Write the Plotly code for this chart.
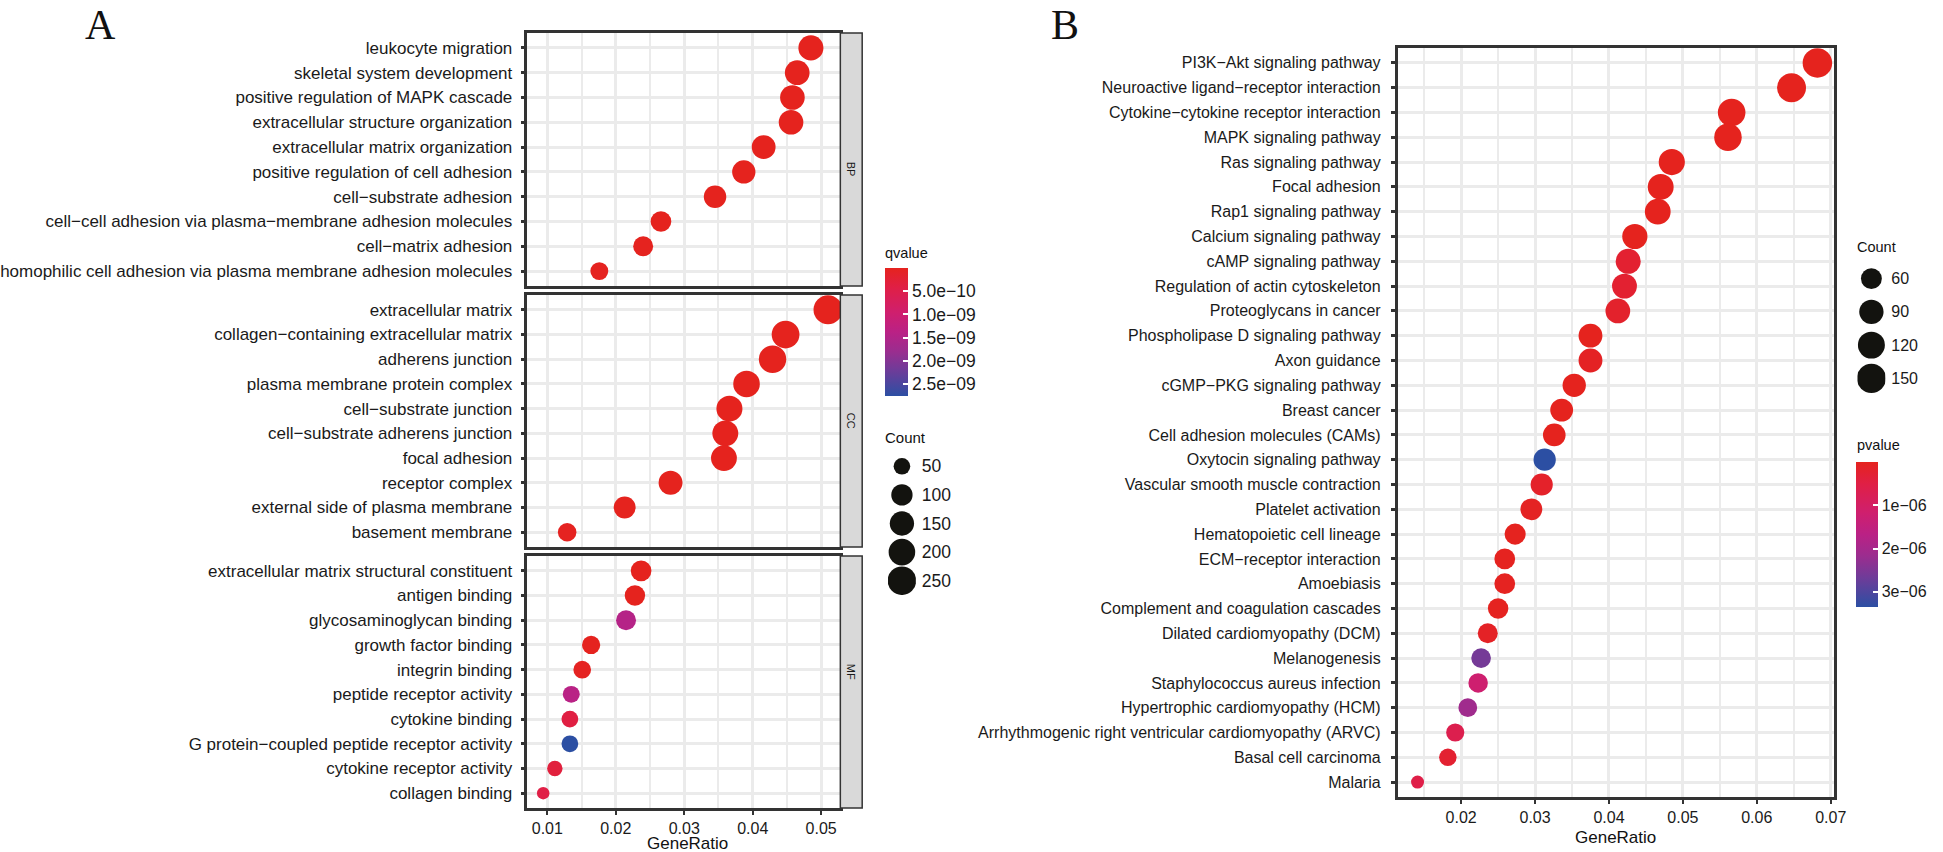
import numpy as np
import plotly.graph_objects as go

W, H = 1943, 852
FONT = "Liberation Sans, Arial, Helvetica, sans-serif"
SERIF = "Liberation Serif, Times New Roman, serif"
TXT = "#1A1A1A"
GRID = "#EBEBEB"
BORDER = "#333333"

# ---------------- Panel A : GO enrichment ----------------
bp_terms = ["leukocyte migration", "skeletal system development",
            "positive regulation of MAPK cascade", "extracellular structure organization",
            "extracellular matrix organization", "positive regulation of cell adhesion",
            "cell\u2212substrate adhesion",
            "cell\u2212cell adhesion via plasma\u2212membrane adhesion molecules",
            "cell\u2212matrix adhesion",
            "homophilic cell adhesion via plasma membrane adhesion molecules"]
bp_ratio = [0.0485, 0.0465, 0.0458, 0.0456, 0.0416, 0.0387, 0.0345, 0.0266, 0.0240, 0.0176]
bp_count = [166, 159, 157, 156, 142, 132, 118, 91, 82, 60]
bp_q = [1e-20, 2e-18, 5e-17, 1e-16, 3e-15, 2e-14, 5e-13, 2e-12, 8e-12, 2e-11]

cc_terms = ["extracellular matrix", "collagen\u2212containing extracellular matrix",
            "adherens junction", "plasma membrane protein complex",
            "cell\u2212substrate junction", "cell\u2212substrate adherens junction",
            "focal adhesion", "receptor complex", "external side of plasma membrane",
            "basement membrane"]
cc_ratio = [0.0510, 0.0448, 0.0429, 0.0391, 0.0366, 0.0360, 0.0358, 0.0280, 0.0213, 0.0129]
cc_count = [260, 228, 219, 199, 187, 184, 183, 143, 109, 66]
cc_q = [1e-30, 1e-25, 1e-18, 2e-16, 1e-15, 1e-15, 2e-15, 3e-13, 5e-12, 3e-11]

mf_terms = ["extracellular matrix structural constituent", "antigen binding",
            "glycosaminoglycan binding", "growth factor binding", "integrin binding",
            "peptide receptor activity", "cytokine binding",
            "G protein\u2212coupled peptide receptor activity", "cytokine receptor activity",
            "collagen binding"]
mf_ratio = [0.0237, 0.0228, 0.0215, 0.0164, 0.0151, 0.0135, 0.0133, 0.0133, 0.0111, 0.0094]
mf_count = [91, 87, 82, 63, 58, 52, 51, 51, 43, 36]
mf_q = [1e-15, 4e-14, 1.45e-9, 6e-12, 4e-11, 1.4e-9, 3.8e-10, 2.76e-9, 3.3e-10, 4.3e-10]

q_tickvals = [5e-10, 1e-9, 1.5e-9, 2e-9, 2.5e-9]
q_ticktext = ["5.0e\u221210", "1.0e\u221209", "1.5e\u221209", "2.0e\u221209", "2.5e\u221209"]
count_breaks_A = [50, 100, 150, 200, 250]

# ---------------- Panel B : KEGG enrichment ----------------
kegg_terms = ["PI3K\u2212Akt signaling pathway", "Neuroactive ligand\u2212receptor interaction",
              "Cytokine\u2212cytokine receptor interaction", "MAPK signaling pathway",
              "Ras signaling pathway", "Focal adhesion", "Rap1 signaling pathway",
              "Calcium signaling pathway", "cAMP signaling pathway",
              "Regulation of actin cytoskeleton", "Proteoglycans in cancer",
              "Phospholipase D signaling pathway", "Axon guidance",
              "cGMP\u2212PKG signaling pathway", "Breast cancer",
              "Cell adhesion molecules (CAMs)", "Oxytocin signaling pathway",
              "Vascular smooth muscle contraction", "Platelet activation",
              "Hematopoietic cell lineage", "ECM\u2212receptor interaction", "Amoebiasis",
              "Complement and coagulation cascades", "Dilated cardiomyopathy (DCM)",
              "Melanogenesis", "Staphylococcus aureus infection",
              "Hypertrophic cardiomyopathy (HCM)",
              "Arrhythmogenic right ventricular cardiomyopathy (ARVC)",
              "Basal cell carcinoma", "Malaria"]
kegg_ratio = [0.0682, 0.0647, 0.0566, 0.0561, 0.0485, 0.0470, 0.0466, 0.0435, 0.0426, 0.0421,
              0.0412, 0.0375, 0.0375, 0.0353, 0.0336, 0.0326, 0.0313, 0.0309, 0.0295, 0.0273,
              0.0259, 0.0259, 0.0250, 0.0236, 0.0227, 0.0223, 0.0209, 0.0192, 0.0182, 0.0141]
kegg_count = [155, 147, 128, 127, 110, 107, 106, 99, 97, 96,
              94, 85, 85, 80, 76, 74, 71, 70, 67, 62,
              59, 59, 57, 54, 52, 51, 47, 44, 41, 32]
kegg_p = [1e-12, 5e-12, 1e-11, 2e-11, 3e-11, 5e-11, 8e-11, 1e-10, 2.5e-7, 2.5e-7,
          1.8e-7, 5e-10, 8e-8, 2e-9, 5e-9, 4e-9, 3.35e-6, 1.5e-7, 6e-8, 1e-8,
          3e-8, 4e-8, 3e-8, 1e-7, 2.6e-6, 1.2e-6, 2.1e-6, 6.5e-7, 2.5e-7, 5.5e-7]
p_tickvals = [1e-6, 2e-6, 3e-6]
p_ticktext = ["1e\u221206", "2e\u221206", "3e\u221206"]
count_breaks_B = [60, 90, 120, 150]

# ---------------- styling helpers ----------------
# low value -> red, high value -> blue
COLORSCALE = [[0.0, "#E5231E"], [0.15, "#E01F45"], [0.35, "#CF1F6E"], [0.5, "#BA2185"],
              [0.65, "#9B2D8F"], [0.8, "#6E3C99"], [1.0, "#2C4FA3"]]
# the colour bars run with low values on top (as in ggplot2), so the colour
# axis is fed with negated values and a mirrored colour scale
COLORSCALE_FLIP = [[1 - s, c] for s, c in reversed(COLORSCALE)]


def neg(vals):
    return [-v for v in vals]


def fx(x):
    return x / W


def fy(y):
    return 1 - y / H


def dot_diam(counts, cmin, cmax, dmin, dmax):
    return [dmin + (dmax - dmin) * np.sqrt(max(c - cmin, 0) / (cmax - cmin)) for c in counts]


a_all_counts = bp_count + cc_count + mf_count
a_all_q = bp_q + cc_q + mf_q
A_CMIN, A_CMAX = min(a_all_counts), max(a_all_counts)
B_CMIN, B_CMAX = min(kegg_count), max(kegg_count)
A_DMIN, A_DMAX = 12.5, 29
B_DMIN, B_DMAX = 13, 29.5

A_X0, A_X1 = 531, 846
STRIP_X1 = 868
A_PANELS = [(33, 286), (295, 547), (556, 808)]
A_XRANGE = [0.0071, 0.0528]
B_X0, B_X1, B_Y0, B_Y1 = 1407, 1846, 48, 797
B_XRANGE = [0.0114, 0.0704]


def xaxis_cfg(x0, x1, rng, anchor, labels):
    return dict(domain=[fx(x0), fx(x1)], range=rng, anchor=anchor, tick0=0, dtick=0.01,
                showgrid=True, gridcolor=GRID, gridwidth=2.8,
                minor=dict(tick0=0, dtick=0.005, showgrid=True, gridcolor=GRID, gridwidth=2.2),
                showline=True, linecolor=BORDER, linewidth=2.5, mirror=True,
                ticks="outside" if labels else "", ticklen=4, tickwidth=2, tickcolor=BORDER,
                showticklabels=labels, tickfont=dict(family=FONT, size=16, color=TXT),
                zeroline=False, fixedrange=True)


def yaxis_cfg(y0, y1, terms, anchor, fs, standoff):
    n = len(terms)
    return dict(domain=[fy(y1), fy(y0)], type="category", categoryorder="array",
                categoryarray=terms, range=[n - 0.4, -0.6], anchor=anchor,
                showgrid=True, gridcolor=GRID, gridwidth=2.8,
                showline=True, linecolor=BORDER, linewidth=2.5, mirror=True,
                ticks="outside", ticklen=4, tickwidth=2.5, tickcolor=BORDER,
                tickfont=dict(family=FONT, size=fs, color=TXT), ticklabelstandoff=standoff,
                zeroline=False, fixedrange=True)


fig = go.Figure()
layout = {}

facets = [("BP", bp_terms, bp_ratio, bp_count, bp_q),
          ("CC", cc_terms, cc_ratio, cc_count, cc_q),
          ("MF", mf_terms, mf_ratio, mf_count, mf_q)]
annotations = []
shapes = []
for i, (name, terms, ratio, count, q) in enumerate(facets, start=1):
    sfx = "" if i == 1 else str(i)
    y0, y1 = A_PANELS[i - 1]
    fig.add_trace(go.Scatter(
        x=ratio, y=terms, mode="markers", xaxis="x" + sfx, yaxis="y" + sfx,
        marker=dict(size=dot_diam(count, A_CMIN, A_CMAX, A_DMIN, A_DMAX), color=neg(q),
                    coloraxis="coloraxis", line=dict(width=0), opacity=1),
        showlegend=False, customdata=list(zip(count, q)),
        hovertemplate="%{y}<br>GeneRatio=%{x}<br>Count=%{customdata[0]}"
                      "<br>qvalue=%{customdata[1]:.2e}<extra></extra>"))
    layout["xaxis" + sfx] = xaxis_cfg(A_X0, A_X1, A_XRANGE, "y" + sfx, i == 3)
    layout["yaxis" + sfx] = yaxis_cfg(y0, y1, terms, "x" + sfx, 17, 5)
    shapes.append(dict(type="rect", xref="paper", yref="paper",
                       x0=fx(A_X1), x1=fx(STRIP_X1), y0=fy(y1), y1=fy(y0),
                       fillcolor="#D9D9D9", line=dict(color=BORDER, width=1.5), layer="above"))
    annotations.append(dict(text=name, xref="paper", yref="paper",
                            x=fx((A_X1 + STRIP_X1) / 2), y=fy((y0 + y1) / 2),
                            showarrow=False, textangle=90,
                            font=dict(family=FONT, size=11, color=TXT)))

# Panel B
fig.add_trace(go.Scatter(
    x=kegg_ratio, y=kegg_terms, mode="markers", xaxis="x4", yaxis="y4",
    marker=dict(size=dot_diam(kegg_count, B_CMIN, B_CMAX, B_DMIN, B_DMAX), color=neg(kegg_p),
                coloraxis="coloraxis2", line=dict(width=0), opacity=1),
    showlegend=False, customdata=list(zip(kegg_count, kegg_p)),
    hovertemplate="%{y}<br>GeneRatio=%{x}<br>Count=%{customdata[0]}"
                  "<br>pvalue=%{customdata[1]:.2e}<extra></extra>"))
layout["xaxis4"] = xaxis_cfg(B_X0, B_X1, B_XRANGE, "y4", True)
layout["yaxis4"] = yaxis_cfg(B_Y0, B_Y1, kegg_terms, "x4", 16, 7)

# Count legend A (auxiliary axes)
fig.add_trace(go.Scatter(
    x=[0.5] * len(count_breaks_A), y=[str(c) for c in count_breaks_A], mode="markers",
    xaxis="x5", yaxis="y5", showlegend=False, hoverinfo="skip",
    marker=dict(size=dot_diam(count_breaks_A, A_CMIN, A_CMAX, A_DMIN, A_DMAX),
                color="#13130F", opacity=1, line=dict(width=0))))
layout["xaxis5"] = dict(domain=[fx(894), fx(922)], range=[0, 1], visible=False,
                        anchor="y5", fixedrange=True)
layout["yaxis5"] = dict(domain=[fy(595), fy(452)], type="category", categoryorder="array",
                        categoryarray=[str(c) for c in count_breaks_A],
                        range=[len(count_breaks_A) - 0.5, -0.5], anchor="x5", side="right",
                        showgrid=False, showline=False, zeroline=False, ticks="",
                        ticklabelstandoff=5,
                        tickfont=dict(family=FONT, size=17.5, color=TXT), fixedrange=True)

# Count legend B
fig.add_trace(go.Scatter(
    x=[0.5] * len(count_breaks_B), y=[str(c) for c in count_breaks_B], mode="markers",
    xaxis="x6", yaxis="y6", showlegend=False, hoverinfo="skip",
    marker=dict(size=dot_diam(count_breaks_B, B_CMIN, B_CMAX, B_DMIN, B_DMAX),
                color="#13130F", opacity=1, line=dict(width=0))))
layout["xaxis6"] = dict(domain=[fx(1870), fx(1898)], range=[0, 1], visible=False,
                        anchor="y6", fixedrange=True)
layout["yaxis6"] = dict(domain=[fy(395), fy(262)], type="category", categoryorder="array",
                        categoryarray=[str(c) for c in count_breaks_B],
                        range=[len(count_breaks_B) - 0.5, -0.5], anchor="x6", side="right",
                        showgrid=False, showline=False, zeroline=False, ticks="",
                        ticklabelstandoff=5,
                        tickfont=dict(family=FONT, size=16, color=TXT), fixedrange=True)

# Colour axes (negated values -> low values at the top of the bar)
layout["coloraxis"] = dict(
    colorscale=COLORSCALE_FLIP, cmin=-max(a_all_q), cmax=-min(a_all_q),
    colorbar=dict(x=fx(891), xanchor="left", y=fy(268), yanchor="top",
                  len=128, lenmode="pixels", thickness=23, thicknessmode="pixels",
                  xpad=0, ypad=0, outlinewidth=0, tickvals=neg(q_tickvals), ticktext=q_ticktext,
                  ticks="inside", ticklen=5, tickwidth=1.5, tickcolor="white",
                  tickfont=dict(family=FONT, size=17.5, color=TXT)))
layout["coloraxis2"] = dict(
    colorscale=COLORSCALE_FLIP, cmin=-max(kegg_p), cmax=-min(kegg_p),
    colorbar=dict(x=fx(1869), xanchor="left", y=fy(462), yanchor="top",
                  len=145, lenmode="pixels", thickness=22, thicknessmode="pixels",
                  xpad=0, ypad=0, outlinewidth=0, tickvals=neg(p_tickvals), ticktext=p_ticktext,
                  ticks="inside", ticklen=5, tickwidth=1.5, tickcolor="white",
                  tickfont=dict(family=FONT, size=16, color=TXT)))


# Text annotations
def note(text, x, y, size, xanchor="left", family=FONT, yanchor="middle"):
    annotations.append(dict(text=text, xref="paper", yref="paper", x=fx(x), y=fy(y),
                            xanchor=xanchor, yanchor=yanchor, showarrow=False,
                            font=dict(family=family, size=size, color="#111111")))


note("A", 101, 0, 42, "center", SERIF, "top")
note("B", 1072, 0, 42, "center", SERIF, "top")
note("GeneRatio", (A_X0 + A_X1) / 2 + 4, 843, 17, "center")
note("GeneRatio", (B_X0 + B_X1) / 2, 837, 17, "center")
note("qvalue", 889, 253, 14.5)
note("Count", 889, 437, 15)
note("Count", 1867, 247, 14.5)
note("pvalue", 1867, 445, 14.5)

fig.update_layout(
    width=W, height=H, autosize=False,
    margin=dict(l=0, r=0, t=0, b=0, pad=0),
    paper_bgcolor="white", plot_bgcolor="white",
    font=dict(family=FONT, color=TXT),
    annotations=annotations, shapes=shapes, showlegend=False,
    **layout)

fig.write_html("out.html", config={"displayModeBar": False},
               post_script="document.body.style.margin='0';document.body.style.overflow='hidden';")
